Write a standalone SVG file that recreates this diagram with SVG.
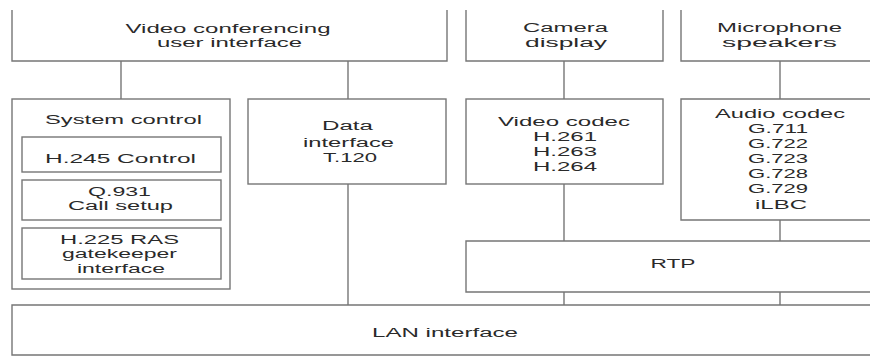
<svg xmlns="http://www.w3.org/2000/svg" width="870" height="356" viewBox="0 0 870 356">
  <style>
    .box { fill: #ffffff; stroke: #767676; stroke-width: 1.4; }
    .open { fill: none; stroke: #767676; stroke-width: 1.4; }
    .link { stroke: #767676; stroke-width: 1.4; fill: none; }
    text { font-family: "Liberation Sans", Arial, sans-serif; font-size: 12.5px; fill: #2a2a2a; text-anchor: middle; }
  </style>
  <rect x="0" y="0" width="870" height="356" fill="#ffffff"/>

  <!-- connectors -->
  <g id="connectors">
    <path class="link" d="M121,61 V99"/>
    <path class="link" d="M348,61 V99"/>
    <path class="link" d="M348,184 V305"/>
    <path class="link" d="M564,61 V99"/>
    <path class="link" d="M564,184 V241"/>
    <path class="link" d="M564,292 V305"/>
    <path class="link" d="M780,61 V99"/>
    <path class="link" d="M780,220 V241"/>
    <path class="link" d="M780,292 V305"/>
  </g>

  <!-- top row -->
  <g id="user-interface">
    <path class="open" d="M12,10 V61 H447 V10"/>
    <text x="228" y="33" textLength="205" lengthAdjust="spacingAndGlyphs">Video conferencing</text>
    <text x="229.5" y="47" textLength="145" lengthAdjust="spacingAndGlyphs">user interface</text>
  </g>
  <g id="camera-display">
    <path class="open" d="M466,10 V61 H663 V10"/>
    <text x="565.5" y="32" textLength="85" lengthAdjust="spacingAndGlyphs">Camera</text>
    <text x="566" y="47" textLength="82" lengthAdjust="spacingAndGlyphs">display</text>
  </g>
  <g id="microphone-speakers">
    <path class="open" d="M681,10 V61 H872"/>
    <text x="779.5" y="32" textLength="125" lengthAdjust="spacingAndGlyphs">Microphone</text>
    <text x="779.5" y="47" textLength="115" lengthAdjust="spacingAndGlyphs">speakers</text>
  </g>

  <!-- middle row -->
  <g id="system-control">
    <rect class="box" x="12" y="99" width="218" height="190"/>
    <text x="123.5" y="124" textLength="157" lengthAdjust="spacingAndGlyphs">System control</text>
  </g>
  <g id="h245-control">
    <rect class="box" x="22" y="137" width="199" height="35"/>
    <text x="120.5" y="163" textLength="151" lengthAdjust="spacingAndGlyphs">H.245 Control</text>
  </g>
  <g id="q931-call-setup">
    <rect class="box" x="22" y="180" width="199" height="40"/>
    <text x="119.5" y="196" textLength="63" lengthAdjust="spacingAndGlyphs">Q.931</text>
    <text x="120.5" y="210" textLength="105" lengthAdjust="spacingAndGlyphs">Call setup</text>
  </g>
  <g id="h225-ras">
    <rect class="box" x="22" y="228" width="199" height="51"/>
    <text x="119.5" y="244" textLength="119" lengthAdjust="spacingAndGlyphs">H.225 RAS</text>
    <text x="119.5" y="258" textLength="115" lengthAdjust="spacingAndGlyphs">gatekeeper</text>
    <text x="121" y="273" textLength="88" lengthAdjust="spacingAndGlyphs">interface</text>
  </g>
  <g id="data-interface">
    <rect class="box" x="248" y="99" width="198" height="85"/>
    <text x="347.5" y="130" textLength="51" lengthAdjust="spacingAndGlyphs">Data</text>
    <text x="348.5" y="147" textLength="91" lengthAdjust="spacingAndGlyphs">interface</text>
    <text x="350" y="162" textLength="54" lengthAdjust="spacingAndGlyphs">T.120</text>
  </g>
  <g id="video-codec">
    <rect class="box" x="466" y="99" width="197" height="85"/>
    <text x="564" y="126" textLength="132" lengthAdjust="spacingAndGlyphs">Video codec</text>
    <text x="565" y="141" textLength="64" lengthAdjust="spacingAndGlyphs">H.261</text>
    <text x="565" y="156" textLength="64" lengthAdjust="spacingAndGlyphs">H.263</text>
    <text x="565" y="171" textLength="64" lengthAdjust="spacingAndGlyphs">H.264</text>
  </g>
  <g id="audio-codec">
    <path class="box" d="M872,99 H681 V220 H872"/>
    <text x="780" y="118" textLength="130" lengthAdjust="spacingAndGlyphs">Audio codec</text>
    <text x="778" y="133" textLength="60" lengthAdjust="spacingAndGlyphs">G.711</text>
    <text x="778" y="148" textLength="60" lengthAdjust="spacingAndGlyphs">G.722</text>
    <text x="778" y="163" textLength="60" lengthAdjust="spacingAndGlyphs">G.723</text>
    <text x="778" y="178" textLength="60" lengthAdjust="spacingAndGlyphs">G.728</text>
    <text x="778" y="193" textLength="60" lengthAdjust="spacingAndGlyphs">G.729</text>
    <text x="781" y="209" textLength="52" lengthAdjust="spacingAndGlyphs">iLBC</text>
  </g>

  <!-- transport -->
  <g id="rtp">
    <path class="box" d="M872,241 H466 V292 H872"/>
    <text x="673" y="268" textLength="45" lengthAdjust="spacingAndGlyphs">RTP</text>
  </g>
  <g id="lan-interface">
    <path class="box" d="M872,305 H12 V355 H872"/>
    <text x="445" y="337" textLength="146" lengthAdjust="spacingAndGlyphs">LAN interface</text>
  </g>
</svg>
